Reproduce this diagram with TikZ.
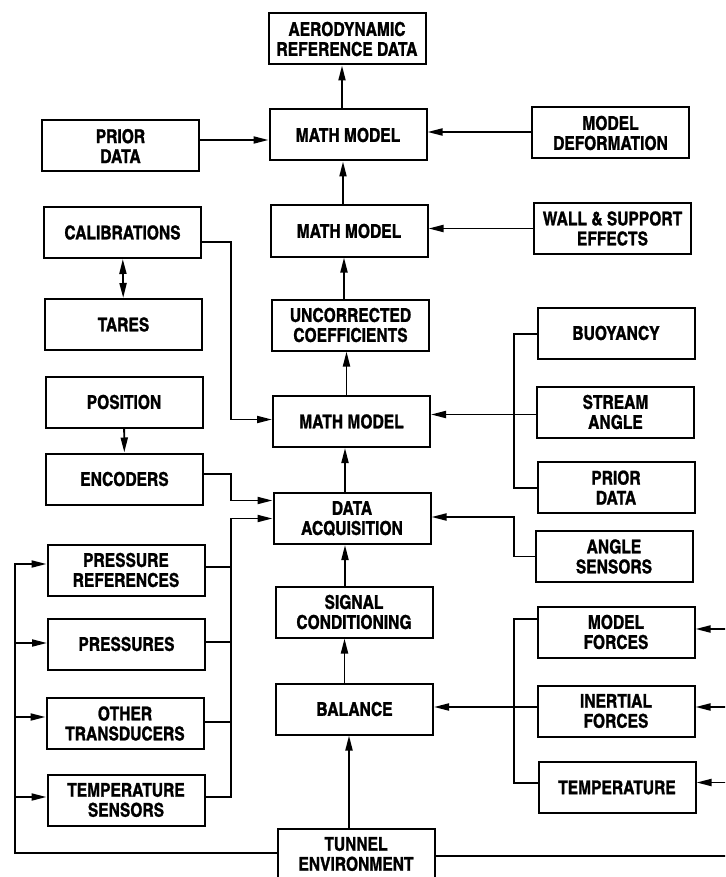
\documentclass[tikz,border=0pt]{standalone}
\usepackage{fontspec}
\newfontfamily\boxfont{texgyreheroscn-bold.otf}[FakeBold=1.2]
\usepackage{tikz}
\usetikzlibrary{arrows.meta}
\tikzset {
  % boxes of the chart
  block/.style = {draw, line width=2pt, minimum width=157pt, minimum height=51pt,
    inner sep=0pt, align=center, font=\boxfont\fontsize{19}{20}\selectfont},
  % connecting lines
  link/.style = {line width=1.9pt},
  >={Triangle[length=15pt, width=7pt]},
}

\begin{document}
\begin{tikzpicture}[x=1pt, y=-1pt]
  \useasboundingbox (0,0) rectangle (725,877);
  \clip (0,0) rectangle (725,877);

  % centre column
  \node[block] (aero) at (347,39) {AERODYNAMIC\\REFERENCE DATA};
  \node[block] (mmA) at (348,135) {MATH MODEL};
  \node[block] (mmB) at (349,231) {MATH MODEL};
  \node[block] (uncor) at (350.5,325) {UNCORRECTED\\COEFFICIENTS};
  \node[block] (mmC) at (351.5,421.5) {MATH MODEL};
  \node[block] (daq) at (352,518.5) {DATA\\ACQUISITION};
  \node[block] (sigcond) at (354,612) {SIGNAL\\CONDITIONING};
  \node[block] (balance) at (354.5,709) {BALANCE};
  \node[block] (tunnel) at (356,854) {TUNNEL\\ENVIRONMENT};

  % left column
  \node[block] (lprior) at (120.5,146) {PRIOR\\DATA};
  \node[block] (calib) at (122.5,232.5) {CALIBRATIONS};
  \node[block] (tares) at (123.5,324.5) {TARES};
  \node[block] (position) at (124,402) {POSITION};
  \node[block] (encoders) at (124.5,479) {ENCODERS};
  \node[block] (presref) at (126,570) {PRESSURE\\REFERENCES};
  \node[block] (pressures) at (126.5,644) {PRESSURES};
  \node[block] (othertr) at (125,723.5) {OTHER\\TRANSDUCERS};
  \node[block] (tempsens) at (126,800) {TEMPERATURE\\SENSORS};

  % right column
  \node[block] (deform) at (610.5,133) {MODEL\\DEFORMATION};
  \node[block] (wall) at (612.5,228.5) {WALL \& SUPPORT\\EFFECTS};
  \node[block] (buoy) at (616,333) {BUOYANCY};
  \node[block] (stream) at (615.5,412) {STREAM\\ANGLE};
  \node[block] (rprior) at (616,487.5) {PRIOR\\DATA};
  \node[block] (anglesens) at (614,556.5) {ANGLE\\SENSORS};
  \node[block] (mforces) at (616,632) {MODEL\\FORCES};
  \node[block] (inertial) at (616,711) {INERTIAL\\FORCES};
  \node[block] (temp) at (617,787.5) {TEMPERATURE};

  % bus lines
  \coordinate (lbus) at (231,0);
  \coordinate (rbus) at (514,0);
  \coordinate (edgeL) at (15,0);
  \coordinate (edgeR) at (731,0);

  % up the centre column
  \draw[link,->] ([xshift=-6pt]mmA.north) -- ([xshift=-6pt]mmA.north |- aero.south);
  \draw[link,->] ([xshift=-6pt]mmB.north) -- ([xshift=-6pt]mmB.north |- mmA.south);
  \draw[link,->] ([xshift=-6.5pt]uncor.north) -- ([xshift=-6.5pt]uncor.north |- mmB.south);
  \draw[link,->] ([xshift=-5pt]mmC.north) -- ([xshift=-5pt]mmC.north |- uncor.south);
  \draw[link,->] ([xshift=-7pt]daq.north) -- ([xshift=-7pt]daq.north |- mmC.south);
  \draw[link,->] ([xshift=-9pt]sigcond.north) -- ([xshift=-9pt]sigcond.north |- daq.south);
  \draw[link,->] ([xshift=-10pt]balance.north) -- ([xshift=-10pt]balance.north |- sigcond.south);
  \draw[link,->] ([xshift=-7pt]tunnel.north) -- ([xshift=-7pt]tunnel.north |- balance.south);

  % side inputs of the upper math models
  \draw[link,->] ([yshift=6pt]lprior.east) -- ([yshift=6pt]lprior.east -| mmA.west);
  \draw[link,->] ([yshift=1pt]deform.west) -- ([yshift=1pt]deform.west -| mmA.east);
  \draw[link,->] (wall.west) -- (wall.west -| mmB.east);
  \draw[link,->] ([yshift=-9.5pt]calib.east) -| ([yshift=2pt]mmC.west -| lbus) -- ([yshift=2pt]mmC.west);
  \draw[link,<->] (calib) -- (tares);
  \draw[link,->] (position) -- (encoders);

  % into data acquisition
  \draw[link,->] ([yshift=5pt]encoders.east) -| ([yshift=18pt]daq.west -| lbus) -- ([yshift=18pt]daq.west);
  \draw[link,->] ([yshift=3pt]tempsens.east) -| (daq.west -| lbus) -- (daq.west);
  \draw[link] ([yshift=3pt]presref.east) -- ([yshift=3pt]presref.east -| lbus);
  \draw[link] ([yshift=2pt]pressures.east) -- ([yshift=2pt]pressures.east -| lbus);
  \draw[link] ([yshift=1.5pt]othertr.east) -- ([yshift=1.5pt]othertr.east -| lbus);
  \draw[link,->] (anglesens.west) -| ([yshift=1.5pt]daq.east -| rbus) -- ([yshift=1.5pt]daq.east);

  % right inputs of the third math model
  \draw[link] ([yshift=-1pt]buoy.west) -| ([yshift=-0.5pt]rprior.west -| rbus) -- ([yshift=-0.5pt]rprior.west);
  \draw[link,->] ([yshift=-2.5pt]stream.west) -- ([yshift=-2.5pt]stream.west -| mmC.east);

  % balance inputs
  \draw[link] ([yshift=13pt]mforces.west) -| ([yshift=4.5pt]temp.west -| rbus) -- ([yshift=4.5pt]temp.west);
  \draw[link,->] ([yshift=4pt]inertial.west) -- ([yshift=4pt]inertial.west -| balance.east);

  % tunnel environment to the sensors
  \draw[link,->] ([yshift=1pt]tunnel.west) -| ([yshift=6pt]presref.west -| edgeL) -- ([yshift=6pt]presref.west);
  \draw[link,->] ([yshift=1pt]pressures.west -| edgeL) -- ([yshift=1pt]pressures.west);
  \draw[link,->] ([yshift=6.5pt]othertr.west -| edgeL) -- ([yshift=6.5pt]othertr.west);
  \draw[link,->] ([yshift=3pt]tempsens.west -| edgeL) -- ([yshift=3pt]tempsens.west);
  \draw[link,->] ([yshift=-2pt]tunnel.east) -| ([yshift=3pt]mforces.east -| edgeR) -- ([yshift=3pt]mforces.east);
  \draw[link,->] ([yshift=4pt]inertial.east -| edgeR) -- ([yshift=4pt]inertial.east);
  \draw[link,->] ([yshift=5pt]temp.east -| edgeR) -- ([yshift=5pt]temp.east);
\end{tikzpicture}
\end{document}
